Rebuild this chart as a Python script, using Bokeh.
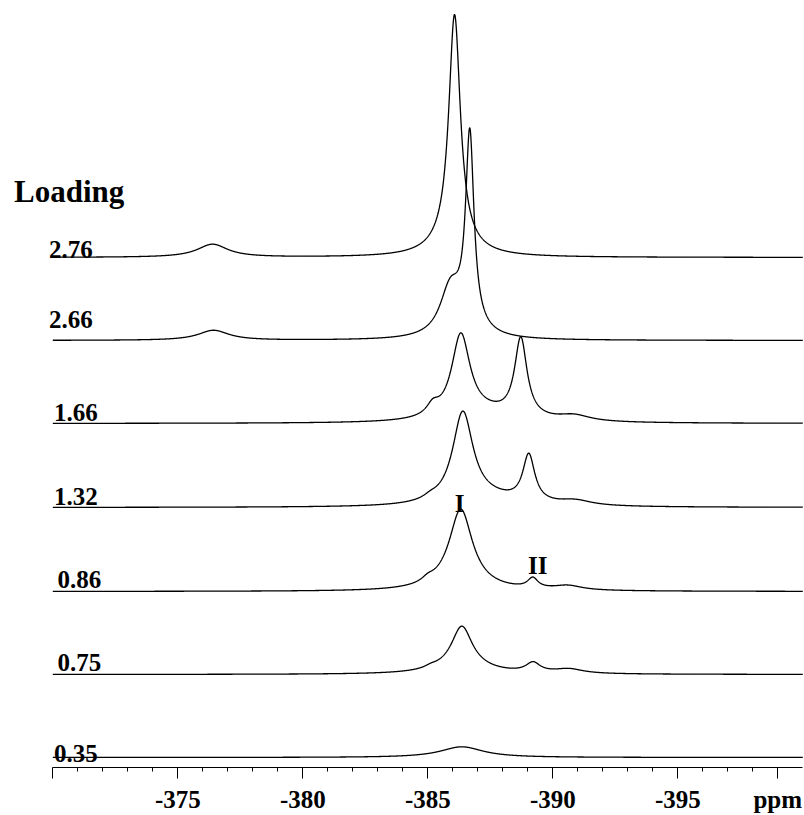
import numpy as np
from bokeh.plotting import figure
from bokeh.models import Range1d, FixedTicker, Label
from bokeh.embed import file_html
from bokeh.resources import INLINE

# ---------------- data ----------------
ppm_start, ppm_end = -370.0, -400.0
loadings = ["2.76", "2.66", "1.66", "1.32", "0.86", "0.75", "0.35"]
major_ticks = [-370, -375, -380, -385, -390, -395, -399]
tick_labels = ["", "-375", "-380", "-385", "-390", "-395", "ppm"]

# peak tables for each spectrum: centre (ppm), height (a.u.), half width at half height (ppm)
centres_276 = [-386.07, -386.0, -376.39]
heights_276 = [231, 12, 13]
widths_276 = [0.28, 1.0, 0.75]

centres_266 = [-386.68, -386.5, -385.9, -376.43]
heights_266 = [190, 10, 45, 10]
widths_266 = [0.2, 0.8, 0.5, 0.75]

centres_166 = [-386.32, -388.72, -385.2, -390.85, -387.3]
heights_166 = [83, 79, 10, 6, 8]
widths_166 = [0.45, 0.3, 0.3, 0.8, 1.5]

centres_132 = [-386.4, -389.04, -385.1, -390.9, -387.5]
heights_132 = [91, 47, 3, 5, 7]
widths_132 = [0.5, 0.29, 0.35, 0.8, 1.5]

centres_086 = [-386.32, -386.3, -389.2, -385.0, -390.6]
heights_086 = [72, 10, 10, 4, 4.5]
widths_086 = [0.55, 1.0, 0.25, 0.3, 0.7]

centres_075 = [-386.36, -386.4, -389.21, -385.12, -390.64]
heights_075 = [40, 8, 9.6, 2, 4.5]
widths_075 = [0.5, 1.2, 0.35, 0.3, 0.7]

centres_035 = [-386.36]
heights_035 = [10.7]
widths_035 = [1.05]

peak_tables = [
    (centres_276, heights_276, widths_276),
    (centres_266, heights_266, widths_266),
    (centres_166, heights_166, widths_166),
    (centres_132, heights_132, widths_132),
    (centres_086, heights_086, widths_086),
    (centres_075, heights_075, widths_075),
    (centres_035, heights_035, widths_035),
]

# ---------------- layout (stacking offsets, label placement) ----------------
stack_offsets = [500, 417, 334, 250, 166, 83, 0]
label_x = [-369.85, -369.85, -370.05, -370.05, -370.19, -370.19, -370.05]
label_y = [508, 437.7, 344.7, 261.3, 178, 95, 4.3]

FONT = "Liberation Serif"

# frame spans the whole width; the axis itself is bounded to -370 .. -400
p = figure(width=804, height=815,
           x_range=Range1d(-367.908, -400.068), y_range=Range1d(-10, 757),
           output_backend="svg", toolbar_location=None, y_axis_type=None,
           min_border_left=0, min_border_right=0, min_border_top=0, min_border_bottom=48)
p.grid.visible = False
p.outline_line_color = None
p.background_fill_color = "white"
p.border_fill_color = "white"

ppm = np.linspace(ppm_start, ppm_end, 3001)
for (cs, hs, ws), off in zip(peak_tables, stack_offsets):
    y = np.zeros_like(ppm)
    for c, h, w in zip(cs, hs, ws):
        y += h / (1.0 + ((ppm - c) / w) ** 2)
    p.line(ppm, y + off, line_color="black", line_width=1.3)

# axis
ax = p.xaxis[0]
ax.bounds = (ppm_end, ppm_start)
minor = [t for t in range(-371, -399, -1) if t % 5 != 0]
ax.ticker = FixedTicker(ticks=major_ticks, minor_ticks=minor)
ax.major_label_overrides = {t: s for t, s in zip(major_ticks, tick_labels)}
ax.axis_line_color = "black"
ax.axis_line_width = 1
ax.major_tick_in = 0
ax.major_tick_out = 11
ax.minor_tick_in = 0
ax.minor_tick_out = 4
ax.major_tick_line_color = "black"
ax.minor_tick_line_color = "black"
ax.major_label_standoff = 7
ax.major_label_text_font = FONT
ax.major_label_text_font_style = "bold"
ax.major_label_text_font_size = "25px"
ax.major_label_text_color = "black"

# texts
p.add_layout(Label(x=-368.45, y=566.3, text="Loading", text_font=FONT, text_font_style="bold",
                   text_font_size="31px", text_color="black", text_baseline="alphabetic"))
for t, lx, ly in zip(loadings, label_x, label_y):
    p.add_layout(Label(x=lx, y=ly, text=t, text_font=FONT, text_font_style="bold",
                       text_font_size="25px", text_color="black", text_baseline="alphabetic"))
p.add_layout(Label(x=-386.27, y=253.7, text="I", text_font=FONT, text_font_style="bold",
                   text_font_size="25px", text_color="black", text_align="center",
                   text_baseline="alphabetic"))
p.add_layout(Label(x=-389.4, y=192, text="II", text_font=FONT, text_font_style="bold",
                   text_font_size="25px", text_color="black", text_align="center",
                   text_baseline="alphabetic"))

open("out.html", "w").write(file_html(p, INLINE))
